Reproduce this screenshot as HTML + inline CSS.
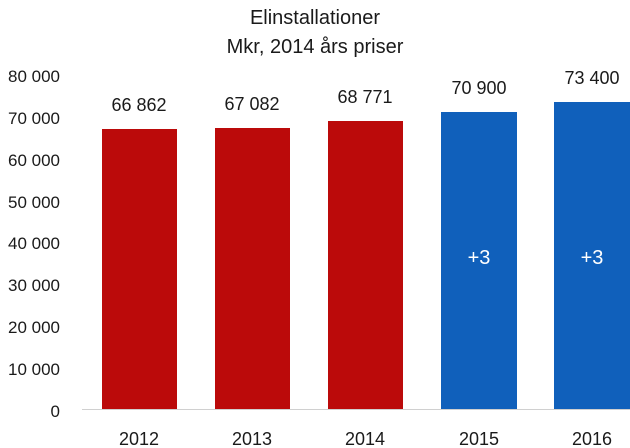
<!DOCTYPE html><html><head><meta charset="utf-8"><style>body{margin:0;background:#fff}svg{display:block}text{font-family:"Liberation Sans",sans-serif;fill:#1a1a1a}</style></head><body>
<svg width="630" height="448" viewBox="0 0 630 448">
<text x="315" y="24" font-size="20" text-anchor="middle">Elinstallationer</text>
<text x="315" y="53" font-size="20" text-anchor="middle">Mkr, 2014 års priser</text>
<g font-size="17" text-anchor="end">
<text x="60" y="82">80 000</text><text x="60" y="124">70 000</text><text x="60" y="166">60 000</text><text x="60" y="208">50 000</text><text x="60" y="249">40 000</text><text x="60" y="291">30 000</text><text x="60" y="333">20 000</text><text x="60" y="375">10 000</text><text x="60" y="417">0</text>
</g>
<line x1="82" y1="409.5" x2="630" y2="409.5" stroke="#d0d0d0" stroke-width="1"/>
<rect x="102" y="129" width="75" height="280" fill="#bb0a0a"/>
<rect x="215" y="128" width="75" height="281" fill="#bb0a0a"/>
<rect x="328" y="121" width="75" height="288" fill="#bb0a0a"/>
<rect x="441" y="112" width="76" height="297" fill="#1060bb"/>
<rect x="554" y="102" width="76" height="307" fill="#1060bb"/>
<g font-size="18" text-anchor="middle">
<text x="139" y="111">66 862</text><text x="252" y="110">67 082</text><text x="365" y="103">68 771</text><text x="479" y="94">70 900</text><text x="592" y="84">73 400</text>
<text x="139" y="445">2012</text><text x="252" y="445">2013</text><text x="365" y="445">2014</text><text x="479" y="445">2015</text><text x="592" y="445">2016</text>
<text x="479" y="264" font-size="20" style="fill:#fff">+3</text><text x="592" y="264" font-size="20" style="fill:#fff">+3</text>
</g>
</svg></body></html>
